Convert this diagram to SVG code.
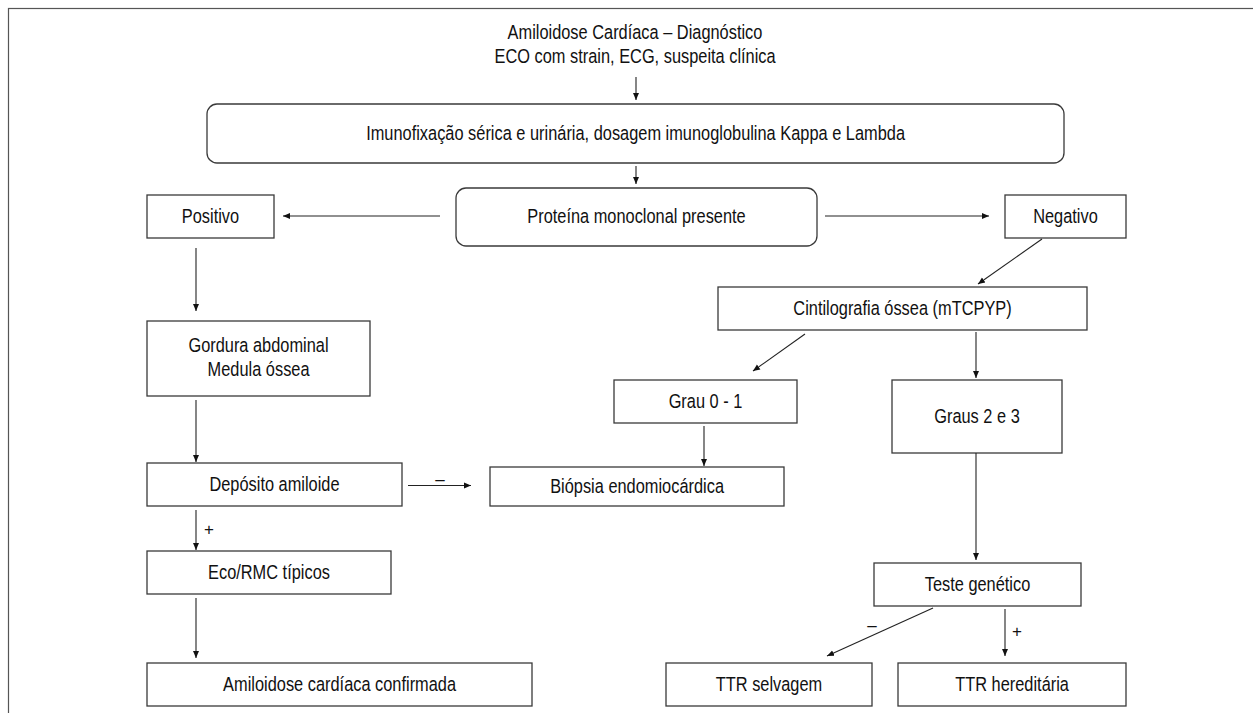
<svg xmlns="http://www.w3.org/2000/svg" width="1253" height="713" viewBox="0 0 1253 713">
<style>
.b{fill:#fff;stroke:#3a3a3a;stroke-width:1.3}
.t{font-family:"Liberation Sans",Arial,sans-serif;font-size:19.5px;fill:#111;text-anchor:middle;transform-box:fill-box;transform-origin:center;transform:scaleX(0.84)}
.c{stroke:#222;stroke-width:1.1;fill:none;marker-end:url(#ah)}
.l{font-family:"Liberation Sans",Arial,sans-serif;font-size:17px;fill:#111;text-anchor:middle}
</style>
<defs>
<marker id="ah" markerUnits="userSpaceOnUse" markerWidth="8" markerHeight="8" viewBox="0 0 8 8" refX="7" refY="4" orient="auto">
<path d="M0,1 L7,4 L0,7 z" fill="#111"/>
</marker>
</defs>
<rect x="0" y="0" width="1253" height="713" fill="#fff"/>
<rect x="8.5" y="8.5" width="1260" height="720" fill="none" stroke="#555" stroke-width="1.2"/>

<g id="title">
<text class="t" x="635" y="39">Amiloidose Cardíaca – Diagnóstico</text>
<text class="t" x="635" y="63">ECO com strain, ECG, suspeita clínica</text>
</g>
<g id="imuno"><rect class="b" x="207" y="104" width="857" height="59" rx="10"/><text class="t" x="635.5" y="140">Imunofixação sérica e urinária, dosagem imunoglobulina Kappa e Lambda</text></g>
<g id="proteina"><rect class="b" x="456" y="188" width="361" height="58" rx="10"/><text class="t" x="636.5" y="223">Proteína monoclonal presente</text></g>
<g id="positivo"><rect class="b" x="147" y="195" width="127" height="43"/><text class="t" x="210.5" y="223">Positivo</text></g>
<g id="negativo"><rect class="b" x="1005" y="195" width="121" height="43"/><text class="t" x="1065.5" y="223">Negativo</text></g>
<g id="gordura"><rect class="b" x="147" y="321" width="223" height="75"/><text class="t" x="258.5" y="352">Gordura abdominal</text><text class="t" x="258.5" y="376">Medula óssea</text></g>
<g id="deposito"><rect class="b" x="147" y="463" width="255" height="43"/><text class="t" x="274.5" y="491">Depósito amiloide</text></g>
<g id="eco"><rect class="b" x="147" y="551" width="244" height="43"/><text class="t" x="269" y="579">Eco/RMC típicos</text></g>
<g id="confirmada"><rect class="b" x="147" y="663" width="385" height="43"/><text class="t" x="339.5" y="691">Amiloidose cardíaca confirmada</text></g>
<g id="biopsia"><rect class="b" x="490" y="467" width="294" height="39"/><text class="t" x="637" y="493">Biópsia endomiocárdica</text></g>
<g id="cintilografia"><rect class="b" x="718" y="287" width="369" height="43"/><text class="t" x="902.5" y="315">Cintilografia óssea (mTCPYP)</text></g>
<g id="grau01"><rect class="b" x="614" y="380" width="183" height="43"/><text class="t" x="705.5" y="408">Grau 0 - 1</text></g>
<g id="graus23"><rect class="b" x="892" y="380" width="170" height="73"/><text class="t" x="977" y="423">Graus 2 e 3</text></g>
<g id="teste"><rect class="b" x="874" y="563" width="207" height="43"/><text class="t" x="977.5" y="591">Teste genético</text></g>
<g id="selvagem"><rect class="b" x="666" y="663" width="206" height="43"/><text class="t" x="769" y="691">TTR selvagem</text></g>
<g id="hereditaria"><rect class="b" x="898" y="663" width="228" height="43"/><text class="t" x="1012" y="691">TTR hereditária</text></g>

<g id="connectors">
<line class="c" x1="636" y1="77" x2="636" y2="100"/>
<line class="c" x1="636" y1="166" x2="636" y2="184"/>
<line class="c" x1="440" y1="216" x2="283" y2="216"/>
<line class="c" x1="825" y1="216" x2="989" y2="216"/>
<line class="c" x1="196" y1="248" x2="196" y2="311"/>
<line class="c" x1="196" y1="400" x2="196" y2="462"/>
<line class="c" x1="408" y1="485.5" x2="471" y2="485.5"/>
<line class="c" x1="196" y1="510" x2="196" y2="550"/>
<line class="c" x1="196" y1="598" x2="196" y2="658"/>
<line class="c" x1="1042" y1="239" x2="978" y2="284"/>
<line class="c" x1="805" y1="334" x2="753" y2="371"/>
<line class="c" x1="976" y1="332" x2="976" y2="378"/>
<line class="c" x1="704" y1="426" x2="704" y2="466"/>
<line class="c" x1="976" y1="453" x2="976" y2="560"/>
<line class="c" x1="933" y1="608" x2="827" y2="656"/>
<line class="c" x1="1005" y1="609" x2="1005" y2="656"/>
<text class="l" x="440" y="485">–</text>
<text class="l" x="209" y="535">+</text>
<text class="l" x="872" y="631">–</text>
<text class="l" x="1017" y="637">+</text>
</g>
</svg>
